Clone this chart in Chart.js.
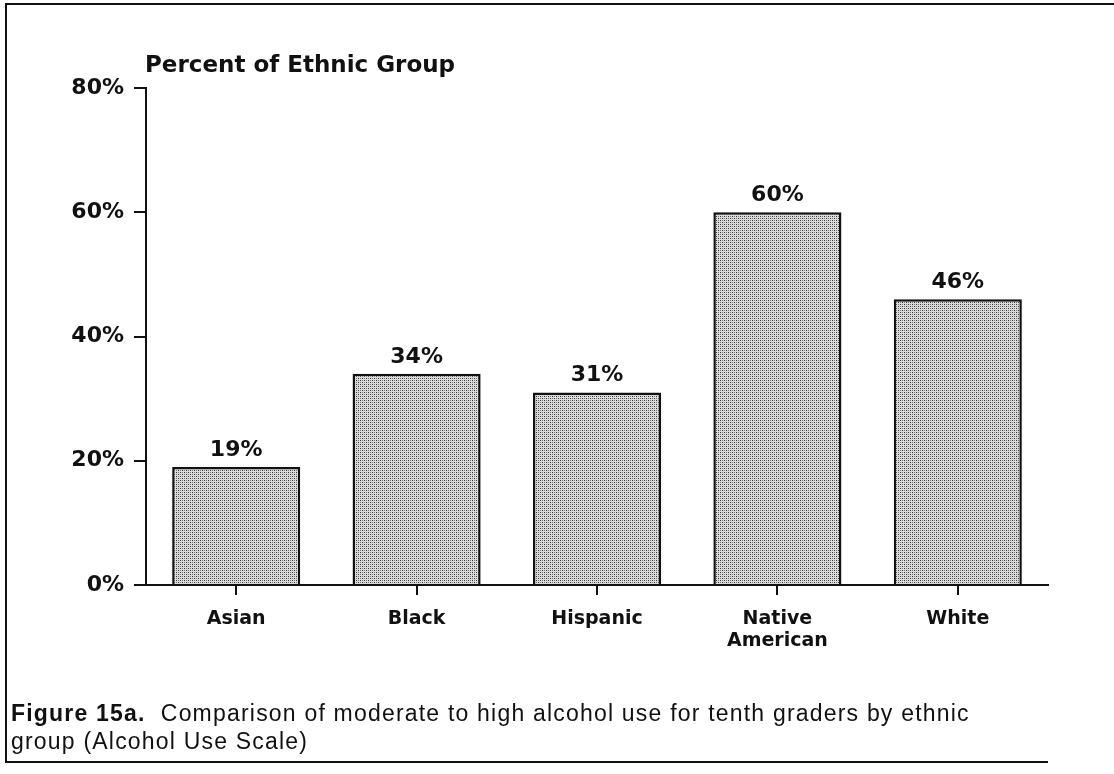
<!DOCTYPE html>
<html>
<head>
    <title>Figure 15a - Alcohol Use by Ethnic Group</title>
    <script src="https://cdn.jsdelivr.net/npm/chart.js"></script>
    <style>
        body {
            margin: 0;
            background-color: white;
            width: 1114px;
            height: 774px;
            overflow: hidden;
            position: relative;
        }
        #wrap {
            position: absolute;
            left: 0;
            top: 0;
            width: 1114px;
            height: 774px;
        }
        #frame {
            position: absolute;
            left: 5px;
            top: 3px;
            width: 1109px;
            height: 758px;
            border-top: 2px solid #111;
            border-left: 2px solid #111;
        }
        #bottomLine {
            position: absolute;
            left: 5px;
            top: 761px;
            width: 1043px;
            height: 2px;
            background-color: #111;
        }
        #caption {
            position: absolute;
            left: 11px;
            top: 699px;
            font-family: "Liberation Sans", Arial, sans-serif;
            font-size: 23px;
            line-height: 28px;
            color: #111;
            letter-spacing: 1.2px;
        }
        #caption b {
            font-weight: bold;
        }
    </style>
</head>
<body>
    <div id="frame"></div>
    <div id="bottomLine"></div>
    <div id="wrap"><canvas id="chart"></canvas></div>
    <div id="caption"><b>Figure 15a.</b>&nbsp; Comparison of moderate to high alcohol use for tenth graders by ethnic<br>group (Alcohol Use Scale)</div>

    <script>
        // values
        let categories = ['Asian', 'Black', 'Hispanic', 'Native American', 'White'];
        let percents = [19, 34, 31, 60, 46];
        let yTicks = [0, 20, 40, 60, 80];
        let axisTitle = 'Percent of Ethnic Group';

        let tickFont = { family: 'DejaVu Sans', size: 22, weight: 'bold' };
        let catFont = { family: 'DejaVu Sans', size: 19, weight: 'bold', lineHeight: 1.15 };
        let valueFont = 'bold 22px "DejaVu Sans"';

        // stippled gray fill like the print screen
        function makeStipple() {
            let c = document.createElement('canvas');
            c.width = 4;
            c.height = 4;
            let g = c.getContext('2d');
            g.fillStyle = '#dcdcdc';
            g.fillRect(0, 0, 4, 4);
            g.fillStyle = '#333';
            g.fillRect(0, 0, 1, 1);
            g.fillRect(2, 2, 1, 1);
            g.fillStyle = '#777';
            g.fillRect(2, 0, 1, 1);
            g.fillRect(0, 2, 1, 1);
            return g.createPattern(c, 'repeat');
        }

        const labelPlugin = {
            id: 'barLabels',
            afterDatasetsDraw(chart) {
                let ctx = chart.ctx;
                let meta = chart.getDatasetMeta(0);
                ctx.save();
                ctx.font = valueFont;
                ctx.fillStyle = '#111';
                ctx.textAlign = 'center';
                ctx.textBaseline = 'alphabetic';
                meta.data.forEach((bar, i) => {
                    ctx.fillText(percents[i] + '%', bar.x, bar.y - 11);
                });
                // axis heading
                ctx.font = 'bold 23px "DejaVu Sans"';
                ctx.textAlign = 'left';
                ctx.fillText(axisTitle, chart.chartArea.left - 1, 72);
                ctx.restore();
            }
        };

        let ctx = document.getElementById('chart').getContext('2d');
        new Chart(ctx, {
            type: 'bar',
            data: {
                labels: categories,
                datasets: [{
                    data: percents,
                    backgroundColor: makeStipple(),
                    borderColor: '#111',
                    borderWidth: 2.5,
                    borderSkipped: 'bottom',
                    barPercentage: 0.71,
                    categoryPercentage: 1.0
                }]
            },
            options: {
                responsive: true,
                maintainAspectRatio: false,
                animation: false,
                layout: {
                    padding: { top: 88, right: 66, left: 0, bottom: 0 }
                },
                plugins: {
                    legend: { display: false },
                    tooltip: { enabled: false }
                },
                scales: {
                    x: {
                        afterFit(scale) { scale.height = 189; },
                        border: { display: true, color: '#111', width: 2 },
                        grid: {
                            offset: false,
                            drawOnChartArea: false,
                            drawTicks: true,
                            tickLength: 10,
                            color: '#111',
                            lineWidth: 2
                        },
                        ticks: {
                            color: '#111',
                            font: catFont,
                            padding: 13,
                            maxRotation: 0,
                            autoSkip: false,
                            callback: function(value) {
                                return this.getLabelForValue(value).split(' ');
                            }
                        }
                    },
                    y: {
                        min: 0,
                        max: 80,
                        afterFit(scale) { scale.width = 146; },
                        afterBuildTicks(scale) {
                            scale.ticks = yTicks.map(v => ({ value: v }));
                        },
                        border: { display: true, color: '#111', width: 2 },
                        grid: {
                            drawOnChartArea: false,
                            drawTicks: true,
                            tickLength: 12,
                            color: '#111',
                            lineWidth: 2
                        },
                        ticks: {
                            color: '#111',
                            font: tickFont,
                            padding: 10,
                            callback: v => v + '%'
                        }
                    }
                }
            },
            plugins: [labelPlugin]
        });
    </script>
</body>
</html>
